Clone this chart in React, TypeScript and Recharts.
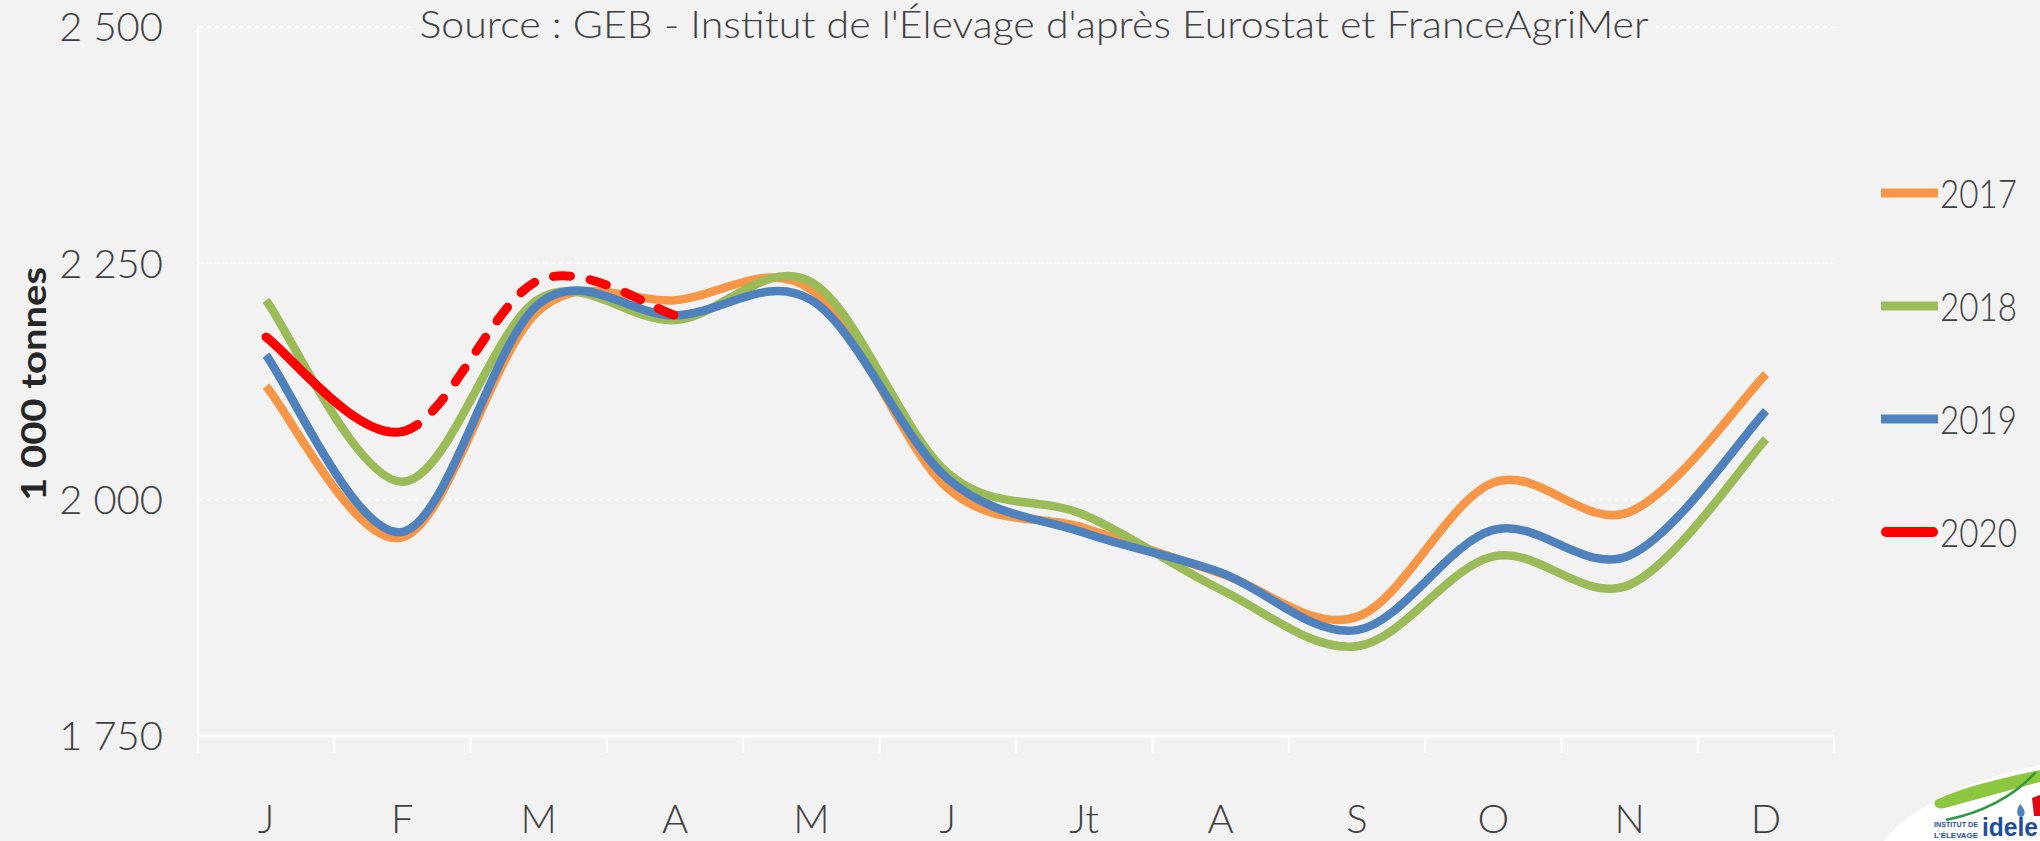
import React from "react";
import { LineChart, Line, XAxis, YAxis, CartesianGrid } from "recharts";

const months = ["J", "F", "M", "A", "M", "J", "Jt", "A", "S", "O", "N", "D"];
const y2017 = [2120, 1960, 2200, 2211, 2222, 2012, 1970, 1922, 1876, 2018, 1987, 2133];
const y2018 = [2211, 2019, 2212, 2190, 2230, 2028, 1984, 1905, 1845, 1940, 1910, 2064];
const y2019 = [2153, 1966, 2207, 2195, 2211, 2022, 1965, 1923, 1862, 1968, 1941, 2094];
const y2020 = [2172, 2072, 2232, 2195];
const yTicks = [1750, 2000, 2250, 2500];

const legendItems = [
  { name: "2017", color: "#F79646" },
  { name: "2018", color: "#9BBB59" },
  { name: "2019", color: "#4F81BD" },
  { name: "2020", color: "#FF0000" },
];

const rows = months.map((_, i) => ({
  i,
  "2017": y2017[i],
  "2018": y2018[i],
  "2019": y2019[i],
  "2020": i < y2020.length ? y2020[i] : null,
}));

const W = 2040;
const H = 841;
const PLOT_L = 198;
const PLOT_R = 1834;
const FONT = "Lato, 'Open Sans', 'Liberation Sans', sans-serif";
const INK = "#404040";

// excel-like smoothing (catmull-rom), only draws segments from..to but uses all points for tangents
const excelCurve = (from: number, to: number) => (context: any) => {
  let pts: number[][] = [];
  return {
    areaStart() {},
    areaEnd() {},
    lineStart() {
      pts = [];
    },
    point(x: number, y: number) {
      pts.push([+x, +y]);
    },
    lineEnd() {
      const n = pts.length;
      if (!n || from >= n) return;
      const end = Math.min(to, n - 1);
      context.moveTo(pts[from][0], pts[from][1]);
      for (let k = from; k < end; k++) {
        const p0 = pts[Math.max(k - 1, 0)];
        const p1 = pts[k];
        const p2 = pts[k + 1];
        const p3 = pts[Math.min(k + 2, n - 1)];
        context.bezierCurveTo(
          p1[0] + (p2[0] - p0[0]) / 6,
          p1[1] + (p2[1] - p0[1]) / 6,
          p2[0] - (p3[0] - p1[0]) / 6,
          p2[1] - (p3[1] - p1[1]) / 6,
          p2[0],
          p2[1]
        );
      }
    },
  };
};

const smoothAll = excelCurve(0, 99);
const smoothHead = excelCurve(0, 1);
const smoothTail = excelCurve(1, 99);

function MonthTick(props: any) {
  const { x, y, payload, index } = props;
  const half = (PLOT_R - PLOT_L) / months.length / 2;
  return (
    <g>
      <line x1={x - half} x2={x - half} y1={y} y2={y + 17} stroke="#fff" strokeWidth={2} />
      {index === months.length - 1 && (
        <line x1={x + half} x2={x + half} y1={y} y2={y + 17} stroke="#fff" strokeWidth={2} />
      )}
      <text x={x} y={y + 97} textAnchor="middle" fontSize={40} fontWeight={300} fill={INK} fontFamily={FONT}>
        {months[payload.value]}
      </text>
    </g>
  );
}

function Overlay() {
  return (
    <svg width={W} height={H} style={{ position: "absolute", left: 0, top: 0, pointerEvents: "none" }}>
      {/* title */}
      <rect x={412} y={4} width={1244} height={42} fill="#F2F2F2" />
      <text x={1034} y={38} textAnchor="middle" fontSize={37} fontWeight={300} fill={INK} fontFamily={FONT}
        textLength={1229} lengthAdjust="spacingAndGlyphs">
        Source : GEB - Institut de l'Élevage d'après Eurostat et FranceAgriMer
      </text>
      {/* axis title */}
      <text transform="translate(46 384) rotate(-90)" textAnchor="middle" fontSize={34} fontWeight={700}
        fill="#262626" fontFamily={FONT} textLength={234} lengthAdjust="spacingAndGlyphs">
        1 000 tonnes
      </text>
      {/* legend */}
      {legendItems.map((s, k) => {
        const cy = 193 + 113 * k;
        const red = s.name === "2020";
        return (
          <g key={s.name}>
            <line x1={red ? 1886 : 1881} x2={red ? 1933 : 1938} y1={cy} y2={cy} stroke={s.color}
              strokeWidth={red ? 10 : 9} strokeLinecap={red ? "round" : "butt"} />
            <text x={1940} y={cy + 15} fontSize={40} fontWeight={300} fill={INK} fontFamily={FONT}
              textLength={77} lengthAdjust="spacingAndGlyphs">
              {s.name}
            </text>
          </g>
        );
      })}
      {/* idele logo */}
      <ellipse cx={2030} cy={835} rx={160} ry={66} transform="rotate(-14 2030 835)" fill="#fff" />
      <path d="M1936 800 C1965 786 2005 778 2040 770 L2040 782 C2010 790 1975 800 1945 808 C1936 810 1932 804 1936 800 Z" fill="#8DC63F" />
      <path d="M1946 820 C1985 812 2015 795 2036 772" stroke="#2E9A3E" strokeWidth={2.5} fill="none" />
      <path d="M2020 804 C2016 810 2016 816 2021 817 C2026 816 2026 810 2020 804 Z" fill="#4F81BD" />
      <path d="M2032 798 L2040 795 L2040 816 L2034 816 Z" fill="#E30613" />
      <text x={1934} y={827} fontSize={8} fontWeight={700} fill="#1F4E9C" fontFamily="'Liberation Sans', sans-serif"
        textLength={44} lengthAdjust="spacingAndGlyphs">INSTITUT DE</text>
      <text x={1934} y={838} fontSize={8} fontWeight={700} fill="#1F4E9C" fontFamily="'Liberation Sans', sans-serif"
        textLength={44} lengthAdjust="spacingAndGlyphs">L'ÉLEVAGE</text>
      <text x={1982} y={836} fontSize={26} fontWeight={700} fill="#1F4E9C" fontFamily="'Liberation Sans', sans-serif"
        textLength={56} lengthAdjust="spacingAndGlyphs">idele</text>
    </svg>
  );
}

export default function App() {
  return (
    <div style={{ position: "absolute", left: 0, top: 0, width: W, height: H, background: "#F2F2F2", overflow: "hidden" }}>
      <LineChart width={W} height={H} data={rows} margin={{ top: 27, right: W - PLOT_R, bottom: 0, left: 0 }}>
        <CartesianGrid vertical={false} stroke="#ffffff" strokeWidth={2} strokeDasharray="5 3" />
        <XAxis
          dataKey="i"
          type="category"
          scale="point"
          padding={{ left: 68, right: 68 }}
          height={105}
          interval={0}
          axisLine={{ stroke: "#ffffff", strokeWidth: 3 }}
          tickLine={false}
          tickSize={0}
          tickMargin={0}
          tick={<MonthTick />}
        />
        <YAxis
          type="number"
          domain={[1750, 2500]}
          ticks={yTicks}
          width={PLOT_L}
          axisLine={{ stroke: "#ffffff", strokeWidth: 2 }}
          tickLine={false}
          tickSize={0}
          tickMargin={35}
          tickFormatter={(v: number) => (v >= 1000 ? `${Math.floor(v / 1000)} ${String(v % 1000).padStart(3, "0")}` : String(v))}
          tick={{ fontSize: 40, fill: INK, fontFamily: FONT, fontWeight: 300 }}
        />
        <Line dataKey="2017" stroke="#F79646" strokeWidth={8.5} type={smoothAll as any} dot={false} activeDot={false} isAnimationActive={false} />
        <Line dataKey="2018" stroke="#9BBB59" strokeWidth={8.5} type={smoothAll as any} dot={false} activeDot={false} isAnimationActive={false} />
        <Line dataKey="2019" stroke="#4F81BD" strokeWidth={8.5} type={smoothAll as any} dot={false} activeDot={false} isAnimationActive={false} />
        <Line dataKey="2020" stroke="#FF0000" strokeWidth={9} strokeLinecap="round" type={smoothHead as any} dot={false} activeDot={false} isAnimationActive={false} />
        <Line dataKey="2020" stroke="#FF0000" strokeWidth={9} strokeLinecap="round" strokeDasharray="17 20" type={smoothTail as any} dot={false} activeDot={false} isAnimationActive={false} />
      </LineChart>
      <Overlay />
    </div>
  );
}
